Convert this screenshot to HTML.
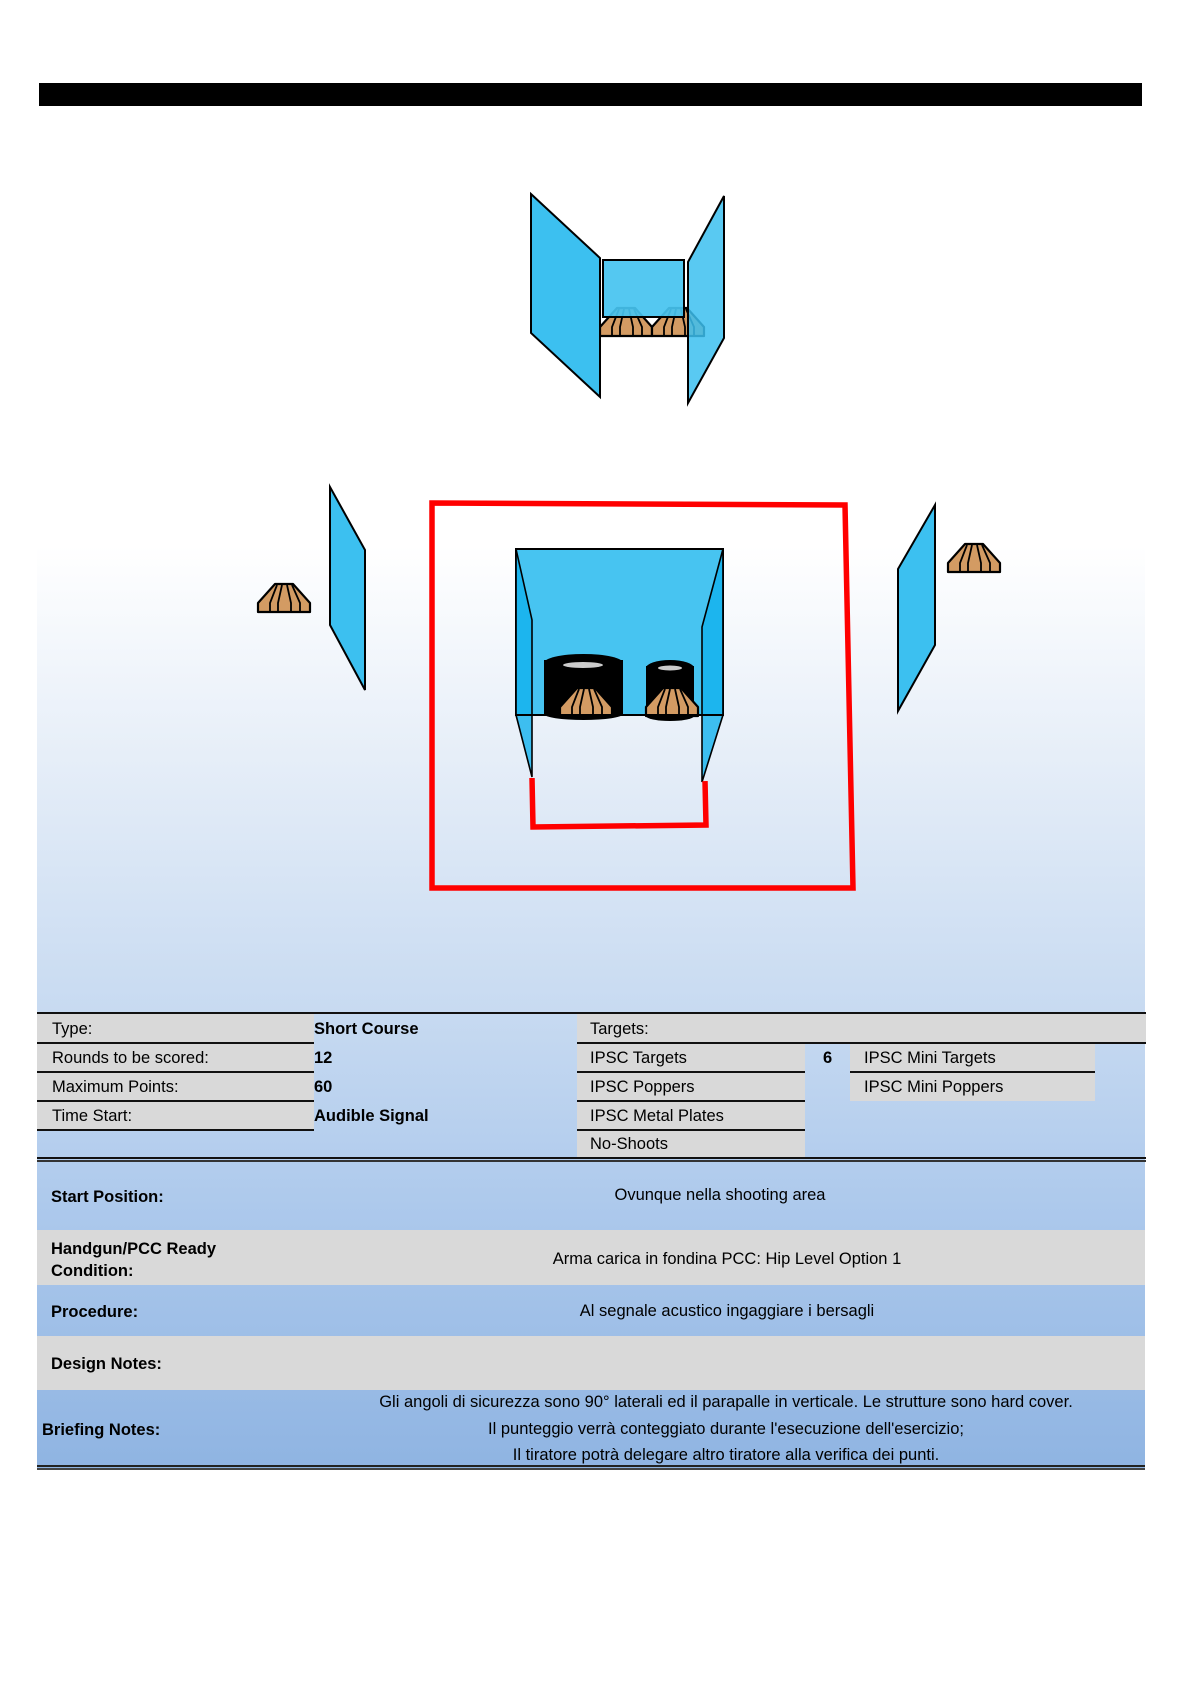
<!DOCTYPE html>
<html><head><meta charset="utf-8"><style>
html,body{margin:0;padding:0;background:#fff}
body{width:1190px;height:1684px;position:relative;overflow:hidden;font-family:"Liberation Sans",Arial,sans-serif;color:#000}
.a{position:absolute}
.t{position:absolute;font-size:16.5px;line-height:20px;white-space:nowrap}
.b{font-weight:bold}
.g{position:absolute;background:#d9d9d9}
.ln{position:absolute;height:2px;background:#111}
</style></head><body>
<div class="a" style="left:39px;top:83px;width:1103px;height:23px;background:#000"></div>
<div class="a" style="left:37px;top:106px;width:1108px;height:1362px;background:linear-gradient(to bottom,#fff 0px,#fff 440px,#e6eef8 650px,#c7daf1 907px,#adc9ec 1100px,#8fb4e2 1362px)"></div>

<svg class="a" style="left:0;top:0" width="1190" height="1000" viewBox="0 0 1190 1000">
<defs>
<g id="pp">
<polygon points="0,19 17,0 35,0 52,19 52,28 0,28" fill="#d39b63" stroke="#000" stroke-width="2.2" stroke-linejoin="round"/>
<path d="M19,1 L12,19 L12,28 M24,1 L20,19 L20,28 M29,1 L33,19 L33,28 M34,1 L42,19 L42,28" fill="none" stroke="#000" stroke-width="1.8"/>
</g>
</defs>
<use href="#pp" x="600" y="308"/>
<use href="#pp" x="652" y="308"/>
<rect x="603" y="260" width="81" height="57" fill="#45c3f0" fill-opacity="0.92" stroke="#000" stroke-width="2"/>
<polygon points="531,194 600,258 600,397 531,333" fill="#3cc0f0" stroke="#000" stroke-width="2"/>
<polygon points="688,262 724,196 724,338 688,403" fill="#3cc0f0" fill-opacity="0.85" stroke="#000" stroke-width="2"/>
<polygon points="330,487 365,550 365,690 330,625" fill="#3cc0f0" stroke="#000" stroke-width="2"/>
<use href="#pp" x="258" y="584"/>
<polygon points="935,505 898,569 898,711 935,645" fill="#3cc0f0" stroke="#000" stroke-width="2"/>
<use href="#pp" x="948" y="544"/>
<rect x="516" y="549" width="207" height="166" fill="#47c4f1" stroke="#000" stroke-width="2"/>
<g>
<rect x="544" y="660" width="79" height="54" fill="#000"/>
<ellipse cx="583.5" cy="663" rx="39.5" ry="9" fill="#000"/>
<ellipse cx="583.5" cy="714" rx="39.5" ry="6" fill="#000"/>
<ellipse cx="583" cy="665" rx="20" ry="3" fill="#ccc"/>
<rect x="646" y="666" width="48" height="50" fill="#000"/>
<ellipse cx="670" cy="668" rx="24" ry="8" fill="#000"/>
<ellipse cx="670" cy="716" rx="24" ry="5" fill="#000"/>
<ellipse cx="670" cy="668" rx="12" ry="2.5" fill="#ccc"/>
</g>
<use href="#pp" x="560" y="688"/>
<use href="#pp" x="646" y="688"/>
<polygon points="516,549 532,620 532,777 516,715" fill="#12b2ee" fill-opacity="0.8" stroke="#000" stroke-width="1.6"/>
<polygon points="723,549 702,627 702,782 723,715" fill="#12b2ee" fill-opacity="0.8" stroke="#000" stroke-width="1.6"/>
<line x1="516" y1="715" x2="723" y2="715" stroke="#000" stroke-width="2"/>
<polygon points="432,503 845,505 853,888 432,888" fill="none" stroke="#f00" stroke-width="5.5"/>
<polyline points="532,778 533,827 706,825 705,781" fill="none" stroke="#f00" stroke-width="5.5"/>
</svg>

<div class="g" style="left:37px;top:1013px;width:277px;height:117px"></div>
<div class="g" style="left:577px;top:1013px;width:569px;height:30px"></div>
<div class="g" style="left:577px;top:1043px;width:228px;height:115px"></div>
<div class="g" style="left:850px;top:1043px;width:245px;height:58px"></div>
<div class="ln" style="left:37px;top:1012px;width:1109px"></div>
<div class="ln" style="left:37px;top:1042px;width:277px"></div>
<div class="ln" style="left:577px;top:1042px;width:569px"></div>
<div class="ln" style="left:37px;top:1071px;width:277px"></div>
<div class="ln" style="left:577px;top:1071px;width:228px"></div>
<div class="ln" style="left:850px;top:1071px;width:245px"></div>
<div class="ln" style="left:37px;top:1100px;width:277px"></div>
<div class="ln" style="left:577px;top:1100px;width:228px"></div>
<div class="ln" style="left:37px;top:1129px;width:277px"></div>
<div class="ln" style="left:577px;top:1129px;width:228px"></div>
<div class="ln" style="left:37px;top:1157px;width:1109px"></div>
<div class="a" style="left:37px;top:1160px;width:1109px;height:2px;background:#333"></div>

<div class="t" style="left:52px;top:1019px">Type:</div>
<div class="t" style="left:52px;top:1048px">Rounds to be scored:</div>
<div class="t" style="left:52px;top:1077px">Maximum Points:</div>
<div class="t" style="left:52px;top:1106px">Time Start:</div>
<div class="t b" style="left:314px;top:1019px">Short Course</div>
<div class="t b" style="left:314px;top:1048px">12</div>
<div class="t b" style="left:314px;top:1077px">60</div>
<div class="t b" style="left:314px;top:1106px">Audible Signal</div>
<div class="t" style="left:590px;top:1019px">Targets:</div>
<div class="t" style="left:590px;top:1048px">IPSC Targets</div>
<div class="t" style="left:590px;top:1077px">IPSC Poppers</div>
<div class="t" style="left:590px;top:1106px">IPSC Metal Plates</div>
<div class="t" style="left:590px;top:1134px">No-Shoots</div>
<div class="t b" style="left:823px;top:1048px">6</div>
<div class="t" style="left:864px;top:1048px">IPSC Mini Targets</div>
<div class="t" style="left:864px;top:1077px">IPSC Mini Poppers</div>

<div class="g" style="left:37px;top:1230px;width:1108px;height:55px"></div>
<div class="g" style="left:37px;top:1336px;width:1108px;height:54px"></div>
<div class="a" style="left:37px;top:1465px;width:1108px;height:2px;background:#222"></div>
<div class="a" style="left:37px;top:1468px;width:1108px;height:2px;background:#444"></div>

<div class="t b" style="left:51px;top:1187px">Start Position:</div>
<div class="t" style="left:604px;top:1185px;width:232px;text-align:center">Ovunque nella shooting area</div>
<div class="t b" style="left:51px;top:1238px;line-height:22px">Handgun/PCC Ready<br>Condition:</div>
<div class="t" style="left:427px;top:1249px;width:600px;text-align:center">Arma carica in fondina PCC: Hip Level Option 1</div>
<div class="t b" style="left:51px;top:1302px">Procedure:</div>
<div class="t" style="left:427px;top:1301px;width:600px;text-align:center">Al segnale acustico ingaggiare i bersagli</div>
<div class="t b" style="left:51px;top:1354px">Design Notes:</div>
<div class="t b" style="left:42px;top:1420px">Briefing Notes:</div>
<div class="t" style="left:326px;top:1392px;width:800px;text-align:center">Gli angoli di sicurezza sono 90° laterali ed il parapalle in verticale. Le strutture sono hard cover.</div>
<div class="t" style="left:326px;top:1419px;width:800px;text-align:center">Il punteggio verrà conteggiato durante l'esecuzione dell'esercizio;</div>
<div class="t" style="left:326px;top:1445px;width:800px;text-align:center">Il tiratore potrà delegare altro tiratore alla verifica dei punti.</div>
</body></html>
